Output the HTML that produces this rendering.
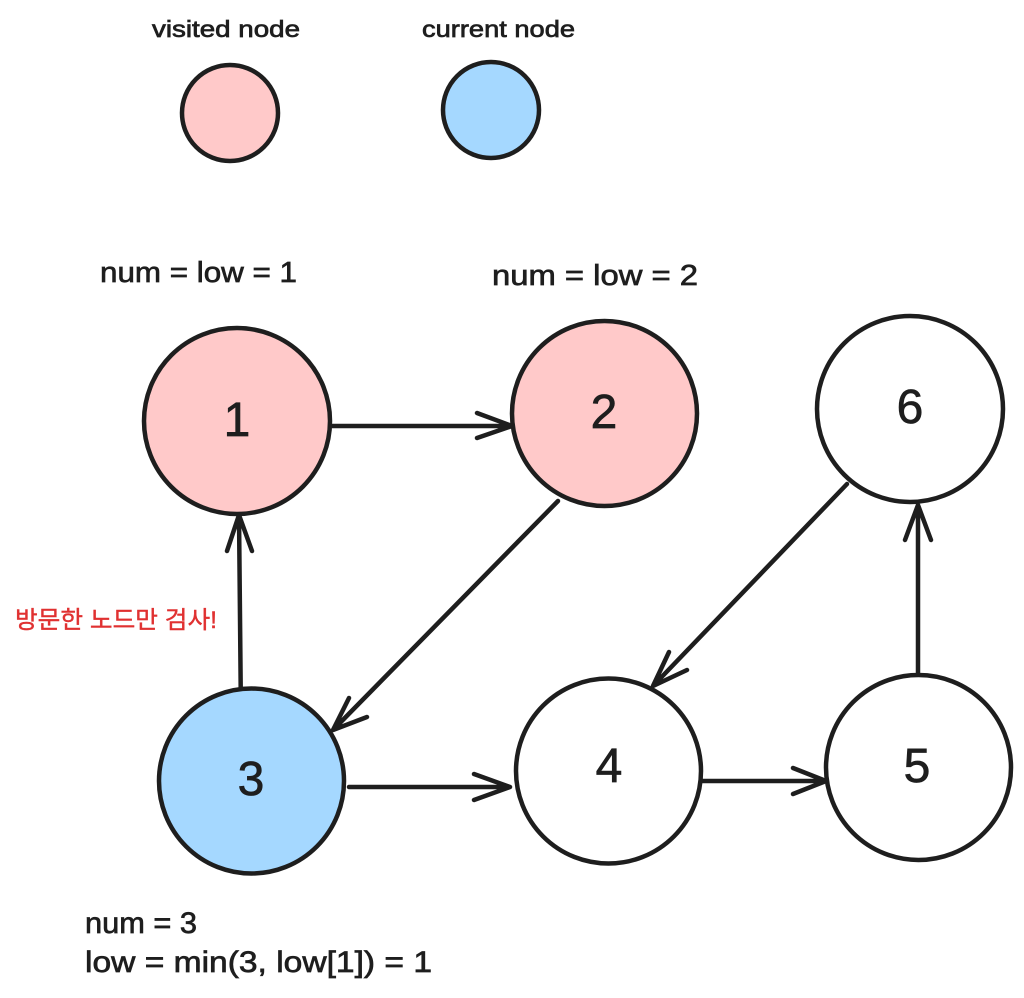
<!DOCTYPE html>
<html><head><meta charset="utf-8"><style>
html,body{margin:0;padding:0;background:#fff;}
svg{display:block;}
text{font-family:"Liberation Sans","Noto Sans CJK KR",sans-serif;fill:#1e1e1e;stroke:#1e1e1e;stroke-width:0.7px;}
</style></head><body>
<svg width="1024" height="998" viewBox="0 0 1024 998" xmlns="http://www.w3.org/2000/svg">
<rect width="1024" height="998" fill="#fff"/>
<g stroke="#1e1e1e" stroke-width="4.5" stroke-linecap="round" stroke-linejoin="round">
  <!-- legend -->
  <circle cx="230" cy="113" r="48" fill="#ffc9c9"/>
  <circle cx="491" cy="110" r="48" fill="#a5d8ff"/>
  <!-- nodes -->
  <circle cx="237" cy="421" r="93" fill="#ffc9c9"/>
  <circle cx="604.5" cy="413.5" r="92.5" fill="#ffc9c9"/>
  <circle cx="910" cy="409" r="93" fill="#fff"/>
  <circle cx="251.5" cy="781" r="92.5" fill="#a5d8ff"/>
  <circle cx="608.5" cy="771" r="92.5" fill="#fff"/>
  <circle cx="918.5" cy="767.5" r="92.5" fill="#fff"/>
  <!-- edges -->
  <g fill="none">
    <path d="M332 426 L512 426 M477 413 L512 426 L477 438"/>
    <path d="M240.7 688 L239 515 M227 551 L239 515 L252 551"/>
    <path d="M558 501 L333 730 M349 698 L333 730 L367 717"/>
    <path d="M349 787 L510 787 M474 774 L510 787 L474 800"/>
    <path d="M847 484 L653 686 M669 652 L653 686 L687 670"/>
    <path d="M918 673 L918 505 M905 540 L918 505 L931 540"/>
    <path d="M702 781 L826 781 M793 768 L826 781 L793 794"/>
  </g>
</g>
<!-- legend labels -->
<text x="152" y="37" font-size="23" textLength="148" lengthAdjust="spacingAndGlyphs">visited node</text>
<text x="422" y="37" font-size="23" textLength="153" lengthAdjust="spacingAndGlyphs">current node</text>
<!-- node labels -->
<g font-size="48" text-anchor="middle">
  <text x="237" y="436">1</text>
  <text x="604" y="428">2</text>
  <text x="910" y="423">6</text>
  <text x="251" y="795">3</text>
  <text x="609" y="782">4</text>
  <text x="917" y="782">5</text>
</g>
<!-- annotations -->
<text x="100" y="282" font-size="29" textLength="197" lengthAdjust="spacingAndGlyphs">num = low = 1</text>
<text x="492" y="285" font-size="29" textLength="206" lengthAdjust="spacingAndGlyphs">num = low = 2</text>
<text x="15" y="628" font-size="24" style="fill:#e03131;stroke:#e03131;stroke-width:0.4px" textLength="202" lengthAdjust="spacingAndGlyphs">방문한 노드만 검사!</text>
<text x="85" y="933" font-size="30" textLength="112" lengthAdjust="spacingAndGlyphs">num = 3</text>
<text x="85" y="972" font-size="30" textLength="347" lengthAdjust="spacingAndGlyphs">low = min(3, low[1]) = 1</text>
</svg>
</body></html>
